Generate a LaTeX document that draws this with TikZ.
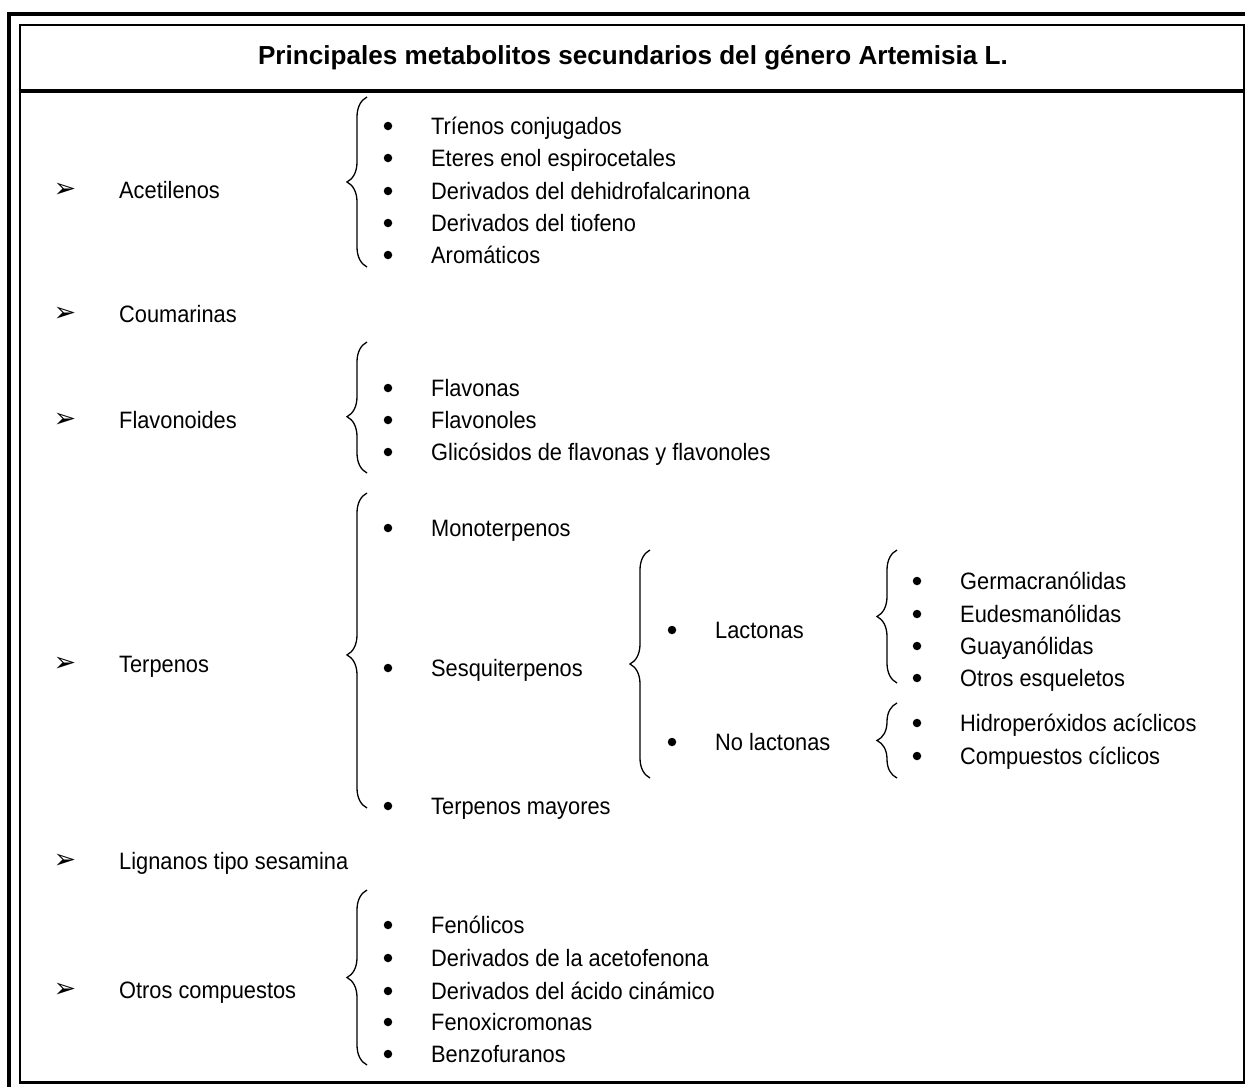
\documentclass[tikz,border=0pt]{standalone}
\usepackage{fontspec}
\setmainfont{Liberation Sans}[FakeStretch=0.92]
\newfontfamily\titlefont{Liberation Sans}
\newfontfamily\dingfont{DejaVu Sans}
\usetikzlibrary{decorations.pathreplacing}

\begin{document}
\begin{tikzpicture}
  [x=1pt,y=-1pt,
   every node/.style={inner sep=0pt,font=\fontsize{23.7}{28}\selectfont},
   lbl/.style={anchor=west,text height=17pt,text depth=0pt},
   bul/.style={circle,fill,minimum size=8.5pt},
   arr/.style={font=\dingfont\fontsize{27}{30}\selectfont},
   brc/.style={line width=1.3pt,decorate,decoration={brace,amplitude=20pt,aspect=#1}},
   brc/.default=0.5]

  \useasboundingbox (0,0) rectangle (1245,1087);

  % frame
  \draw[line width=4pt] (7,14) -- (1245,14);
  \draw[line width=4pt] (9,12) -- (9,1087);
  \draw[line width=2pt] (20,1082) -- (20,25) -- (1244,25) -- (1244,1082);
  \draw[line width=3pt] (19,1082) -- (1245,1082);
  \draw[line width=4pt] (19,91) -- (1245,91);

  \node (title) at (633,58) {\titlefont\fontsize{26.1}{30}\selectfont\bfseries Principales metabolitos secundarios del género Artemisia L.};

  % main groups
  \foreach \y/\t [count=\i] in {190/Acetilenos, 314/Coumarinas, 420/Flavonoides,
      664/Terpenos, 861/Lignanos tipo sesamina, 990/Otros compuestos}{
    \node[arr] (arr\i) at (65,\y) {➢};
    \node[lbl] (grp\i) at (119,\y) {\t};
  }

  % acetilenos
  \foreach \y/\t [count=\i] in {126/Tríenos conjugados, 158/Eteres enol espirocetales,
      191/Derivados del dehidrofalcarinona, 223/Derivados del tiofeno, 255/Aromáticos}{
    \node[bul] (aceb\i) at (388,\y) {};
    \node[lbl] (ace\i) at (431,\y) {\t};
  }

  % flavonoides
  \foreach \y/\t [count=\i] in {388/Flavonas, 420/Flavonoles,
      452/Glicósidos de flavonas y flavonoles}{
    \node[bul] (flab\i) at (388,\y) {};
    \node[lbl] (fla\i) at (431,\y) {\t};
  }

  % terpenos
  \foreach \y/\t [count=\i] in {528/Monoterpenos, 668/Sesquiterpenos, 806/Terpenos mayores}{
    \node[bul] (terb\i) at (388,\y) {};
    \node[lbl] (ter\i) at (431,\y) {\t};
  }
  \foreach \y/\t [count=\i] in {630/Lactonas, 742/No lactonas}{
    \node[bul] (sesb\i) at (672,\y) {};
    \node[lbl] (ses\i) at (715,\y) {\t};
  }
  \foreach \y/\t [count=\i] in {581/Germacranólidas, 614/Eudesmanólidas,
      646/Guayanólidas, 678/Otros esqueletos}{
    \node[bul] (lacb\i) at (917,\y) {};
    \node[lbl] (lac\i) at (960,\y) {\t};
  }
  \foreach \y/\t [count=\i] in {723/Hidroperóxidos acíclicos, 756/Compuestos cíclicos}{
    \node[bul] (nolb\i) at (917,\y) {};
    \node[lbl] (nol\i) at (960,\y) {\t};
  }

  % otros compuestos
  \foreach \y/\t [count=\i] in {925/Fenólicos, 958/Derivados de la acetofenona,
      991/Derivados del ácido cinámico, 1022/Fenoxicromonas, 1054/Benzofuranos}{
    \node[bul] (otrb\i) at (388,\y) {};
    \node[lbl] (otr\i) at (431,\y) {\t};
  }

  % braces
  \coordinate (b1s) at (367,267);  \coordinate (b1e) at (367,97);
  \coordinate (b2s) at (367,473);  \coordinate (b2e) at (367,342);
  \coordinate (b3s) at (367,808);  \coordinate (b3e) at (367,493);
  \coordinate (b4s) at (650,778);  \coordinate (b4e) at (650,550);
  \coordinate (b5s) at (897,683);  \coordinate (b5e) at (897,550);
  \coordinate (b6s) at (897,778);  \coordinate (b6e) at (897,703);
  \coordinate (b7s) at (367,1065); \coordinate (b7e) at (367,890);

  \foreach \s/\e/\a in {b1s/b1e/0.5, b2s/b2e/0.43, b3s/b3e/0.486, b4s/b4e/0.5,
      b5s/b5e/0.5, b6s/b6e/0.5, b7s/b7e/0.5}
    \draw[brc=\a] (\s) -- (\e);

\end{tikzpicture}
\end{document}
